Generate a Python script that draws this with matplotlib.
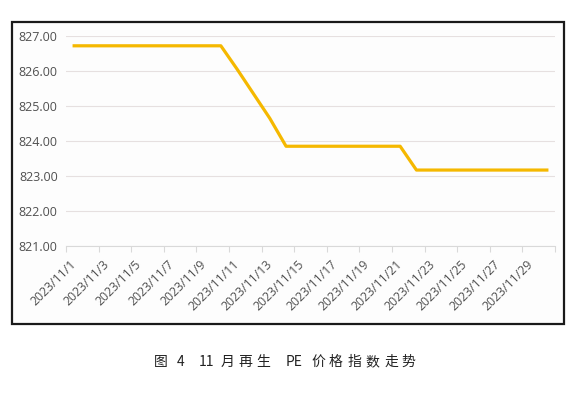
import matplotlib.pyplot as plt
from matplotlib.patches import Rectangle

plt.rcParams['font.family'] = ['Noto Sans CJK SC', 'DejaVu Sans']

# 2023/11/1 .. 2023/11/30
dates = ["2023/11/%d" % d for d in range(1, 31)]
index_values = [826.72, 826.72, 826.72, 826.72, 826.72, 826.72, 826.72, 826.72, 826.72, 826.72,
                826.05, 825.35, 824.65, 823.85, 823.85, 823.85, 823.85, 823.85, 823.85, 823.85,
                823.85, 823.17, 823.17, 823.17, 823.17, 823.17, 823.17, 823.17, 823.17, 823.17]
y_ticks = [821, 822, 823, 824, 825, 826, 827]
caption_parts = ["图", "4", "11", "月", "再", "生", "PE", "价", "格", "指", "数", "走", "势"]
caption_px = [161, 181, 207, 228, 245.5, 263, 294, 318.5, 336, 354, 372.5, 391, 408.5]

fig = plt.figure(figsize=(5.8, 3.95), dpi=100)
fig.patch.set_facecolor("white")

# outer black frame around the chart
frame = Rectangle((12 / 580, 1 - 324 / 395), 552 / 580, 302 / 395, transform=fig.transFigure,
                  fill=True, facecolor="#fdfdfd", edgecolor="#1a1a1a", linewidth=1.6, zorder=-5)
fig.patches.append(frame)

ax = fig.add_axes([66 / 580, 1 - 246 / 395, 489 / 580, 210 / 395])
ax.set_facecolor("none")
ax.set_zorder(2)

x = list(range(len(dates)))
ax.plot(x, index_values, color="#f5b800", linewidth=2.3, solid_joinstyle="round", zorder=3)

ax.set_xlim(-0.5, len(dates) - 0.5)
ax.set_ylim(821, 827)
ax.set_yticks(y_ticks)
ax.set_yticklabels(["%.2f" % v for v in y_ticks], color="#505050", fontsize=9,
                   family=["Open Sans", "DejaVu Sans"])
ax.tick_params(axis="y", length=0, pad=6)
ax.yaxis.grid(True, color="#e6e0e0", linewidth=0.8)

# labels every 2 days, tick marks between the label groups
ax.set_xticks(x[::2])
ax.set_xticklabels(dates[::2], rotation=45, ha="right", va="center", rotation_mode="anchor",
                   color="#505050", fontsize=8.8, family=["Open Sans", "DejaVu Sans"])
ax.tick_params(axis="x", which="major", length=0, pad=12)
ax.set_xticks([i - 0.5 for i in range(0, len(dates) + 1, 2)], minor=True)
ax.tick_params(axis="x", which="minor", length=4, color="#d9d9d9", width=0.8)

for s in ["top", "right", "left"]:
    ax.spines[s].set_visible(False)
ax.spines["bottom"].set_color("#d9d9d9")
ax.spines["bottom"].set_linewidth(0.8)

for part, px in zip(caption_parts, caption_px):
    fig.text(px / 580, 1 - 362 / 395, part, ha="center", va="center", fontsize=10,
             color="#222222")

fig.savefig("out.png", dpi=100)
